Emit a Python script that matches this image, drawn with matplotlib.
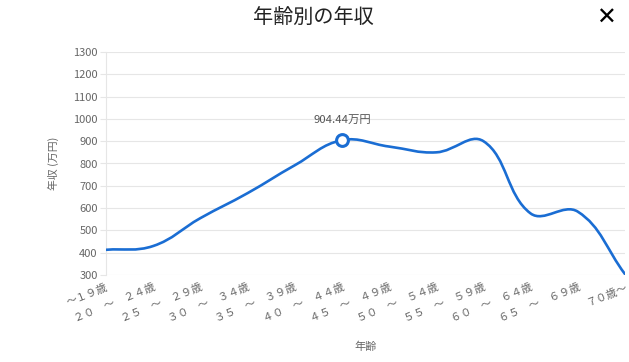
import numpy as np
import matplotlib
matplotlib.use("Agg")
import matplotlib.pyplot as plt
from matplotlib.path import Path
from matplotlib.patches import PathPatch

plt.rcParams['font.family'] = ['Noto Sans CJK JP', 'DejaVu Sans']

categories = ["～１９歳", "２０　～　２４歳", "２５　～　２９歳", "３０　～　３４歳", "３５　～　３９歳",
              "４０　～　４４歳", "４５　～　４９歳", "５０　～　５４歳", "５５　～　５９歳",
              "６０　～　６４歳", "６５　～　６９歳", "７０歳～"]
values = [413, 430, 555, 667, 792, 904.44, 876, 850, 900, 576, 584, 304]
highlight_index = 5
highlight_label = "904.44万円"
y_ticks = [300, 400, 500, 600, 700, 800, 900, 1000, 1100, 1200, 1300]

W, H = 629, 362
fig = plt.figure(figsize=(W / 100, H / 100), dpi=100)
L, R, B, T = 106, 625, 275, 52
ax = fig.add_axes([L / W, 1 - B / H, (R - L) / W, (B - T) / H])

n = len(values)
x = np.arange(n)
ax.set_xlim(0, n - 1)
ax.set_ylim(y_ticks[0], y_ticks[-1])

# Chart.js-like spline (tension 0.4) computed in pixel space
sx = (R - L) / (n - 1)
sy = (B - T) / (y_ticks[-1] - y_ticks[0])
px = x * sx
py = np.array(values) * sy
tension = 0.4
verts = [(px[0], py[0])]
codes = [Path.MOVETO]
cps = []
for i in range(n):
    p0 = np.array([px[max(i - 1, 0)], py[max(i - 1, 0)]])
    p1 = np.array([px[i], py[i]])
    p2 = np.array([px[min(i + 1, n - 1)], py[min(i + 1, n - 1)]])
    d01 = np.hypot(*(p1 - p0))
    d12 = np.hypot(*(p2 - p1))
    tot = d01 + d12
    s01 = d01 / tot if tot else 0
    s12 = d12 / tot if tot else 0
    fa = tension * s01
    fb = tension * s12
    cps.append((p1 - fa * (p2 - p0), p1 + fb * (p2 - p0)))
for i in range(n - 1):
    c1 = cps[i][1]
    c2 = cps[i + 1][0]
    verts += [(c1[0], c1[1]), (c2[0], c2[1]), (px[i + 1], py[i + 1])]
    codes += [Path.CURVE4] * 3
verts = [(vx / sx, vy / sy) for vx, vy in verts]
line_color = "#1a6dd3"
patch = PathPatch(Path(verts, codes), facecolor="none", edgecolor=line_color,
                  linewidth=1.9, capstyle="round", joinstyle="round", zorder=3)
ax.add_patch(patch)

ax.plot([x[highlight_index]], [values[highlight_index]], marker="o", markersize=8.5,
        markerfacecolor="white", markeredgecolor=line_color, markeredgewidth=2.2, zorder=4,
        linestyle="none")
ax.annotate(highlight_label, (x[highlight_index], values[highlight_index]),
            xytext=(0, 11), textcoords="offset points", ha="center", va="bottom",
            fontsize=8.2, color="#555555")

grid_c = "#e6e6e6"
ax.set_yticks(y_ticks)
ax.set_yticklabels([str(v) for v in y_ticks], fontsize=8.0, color="#666666")
ax.grid(axis="y", color=grid_c, linewidth=0.8)
ax.set_axisbelow(True)
ax.tick_params(axis="y", length=4, color=grid_c, pad=2)
for s in ["top", "right", "bottom"]:
    ax.spines[s].set_visible(False)
ax.spines["left"].set_color(grid_c)
ax.spines["left"].set_linewidth(0.8)

ax.set_xticks(x)
ax.set_xticklabels(categories, fontsize=7.8, color="#666666", rotation=22,
                   ha="right", va="top", rotation_mode="anchor")
ax.tick_params(axis="x", length=0, pad=5)

ax.set_ylabel("年収 (万円)", fontsize=7.8, color="#666666")
ax.yaxis.set_label_coords(-(106 - 59) / (R - L), 0.5)
ax.set_xlabel("年齢", fontsize=8.0, color="#666666")
ax.xaxis.set_label_coords(0.5, -(347 - B) / (B - T))
ax.xaxis.label.set_va("center")

fig.text(313 / W, 1 - 18 / H, "年齢別の年収", ha="center", va="center", fontsize=14.5, color="#222222")
fig.text(606 / W, 1 - 18 / H, "✕", ha="center", va="center", fontsize=17,
         color="black", family="DejaVu Sans")

fig.savefig("out.png", dpi=100)
